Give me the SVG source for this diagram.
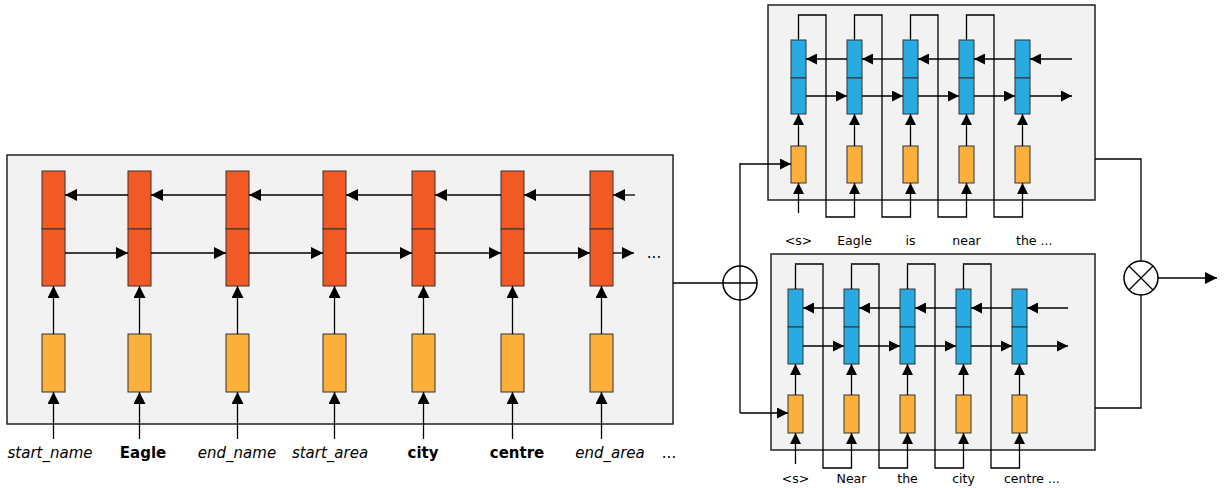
<svg xmlns="http://www.w3.org/2000/svg" width="1225" height="488" viewBox="0 0 1225 488">
<defs>
<marker id="ah" markerUnits="userSpaceOnUse" markerWidth="12" markerHeight="12" refX="12" refY="6" orient="auto"><path d="M0,0 L12,6 L0,12 z" fill="#000"/></marker>
<marker id="as" markerUnits="userSpaceOnUse" markerWidth="11" markerHeight="11" refX="11" refY="5.5" orient="auto"><path d="M0,0 L11,5.5 L0,11 z" fill="#000"/></marker>
<style>
.panel{fill:#F2F2F2;stroke:#222;stroke-width:1.5}
.or{fill:#F15A24;stroke:#333;stroke-width:1}
.ye{fill:#FBB03B;stroke:#333;stroke-width:1}
.bl{fill:#29ABE2;stroke:#333;stroke-width:1}
.ln{fill:none;stroke:#000;stroke-width:1.3}
.ar{fill:none;stroke:#000;stroke-width:1.3;marker-end:url(#ah)}
.as{fill:none;stroke:#000;stroke-width:1.3;marker-end:url(#as)}
.lab{font-family:"DejaVu Sans",Verdana,sans-serif;font-size:15px;fill:#000;text-anchor:middle}
.it{font-style:italic}
.bd{font-weight:bold}
.sl{font-family:"DejaVu Sans",Verdana,sans-serif;font-size:12.5px;fill:#000;text-anchor:middle}
.op{fill:#fff;stroke:#000;stroke-width:1.5}
</style>
</defs>

<g id="encoder">
<rect class="panel" x="7" y="155" width="666" height="269"/>
</g>
<g id="enc-cells">
<g id="enc1"><rect class="or" x="42" y="171" width="23" height="58"/><rect class="or" x="42" y="229" width="23" height="57"/><rect class="ye" x="42" y="334" width="23" height="58"/></g>
<g id="enc2"><rect class="or" x="128" y="171" width="23" height="58"/><rect class="or" x="128" y="229" width="23" height="57"/><rect class="ye" x="128" y="334" width="23" height="58"/></g>
<g id="enc3"><rect class="or" x="226" y="171" width="23" height="58"/><rect class="or" x="226" y="229" width="23" height="57"/><rect class="ye" x="226" y="334" width="23" height="58"/></g>
<g id="enc4"><rect class="or" x="323" y="171" width="23" height="58"/><rect class="or" x="323" y="229" width="23" height="57"/><rect class="ye" x="323" y="334" width="23" height="58"/></g>
<g id="enc5"><rect class="or" x="412" y="171" width="23" height="58"/><rect class="or" x="412" y="229" width="23" height="57"/><rect class="ye" x="412" y="334" width="23" height="58"/></g>
<g id="enc6"><rect class="or" x="501" y="171" width="23" height="58"/><rect class="or" x="501" y="229" width="23" height="57"/><rect class="ye" x="501" y="334" width="23" height="58"/></g>
<g id="enc7"><rect class="or" x="590" y="171" width="23" height="58"/><rect class="or" x="590" y="229" width="23" height="57"/><rect class="ye" x="590" y="334" width="23" height="58"/></g>
</g>

<g id="dec-top">
<rect class="panel" x="768" y="5" width="327" height="195"/>
<g id="dt1"><rect class="bl" x="791" y="40" width="15" height="38"/><rect class="bl" x="791" y="78" width="15" height="36"/><rect class="ye" x="791" y="146" width="15" height="37"/></g>
<g id="dt2"><rect class="bl" x="847" y="40" width="15" height="38"/><rect class="bl" x="847" y="78" width="15" height="36"/><rect class="ye" x="847" y="146" width="15" height="37"/></g>
<g id="dt3"><rect class="bl" x="903" y="40" width="15" height="38"/><rect class="bl" x="903" y="78" width="15" height="36"/><rect class="ye" x="903" y="146" width="15" height="37"/></g>
<g id="dt4"><rect class="bl" x="959" y="40" width="15" height="38"/><rect class="bl" x="959" y="78" width="15" height="36"/><rect class="ye" x="959" y="146" width="15" height="37"/></g>
<g id="dt5"><rect class="bl" x="1015" y="40" width="15" height="38"/><rect class="bl" x="1015" y="78" width="15" height="36"/><rect class="ye" x="1015" y="146" width="15" height="37"/></g>
</g>

<g id="dec-bot">
<rect class="panel" x="771" y="254" width="324" height="196"/>
<g id="db1"><rect class="bl" x="788" y="289" width="15" height="38"/><rect class="bl" x="788" y="327" width="15" height="37"/><rect class="ye" x="788" y="395" width="15" height="38"/></g>
<g id="db2"><rect class="bl" x="844" y="289" width="15" height="38"/><rect class="bl" x="844" y="327" width="15" height="37"/><rect class="ye" x="844" y="395" width="15" height="38"/></g>
<g id="db3"><rect class="bl" x="900" y="289" width="15" height="38"/><rect class="bl" x="900" y="327" width="15" height="37"/><rect class="ye" x="900" y="395" width="15" height="38"/></g>
<g id="db4"><rect class="bl" x="956" y="289" width="15" height="38"/><rect class="bl" x="956" y="327" width="15" height="37"/><rect class="ye" x="956" y="395" width="15" height="38"/></g>
<g id="db5"><rect class="bl" x="1012" y="289" width="15" height="38"/><rect class="bl" x="1012" y="327" width="15" height="37"/><rect class="ye" x="1012" y="395" width="15" height="38"/></g>
</g>

<g id="sum-op">
<circle class="op" cx="740" cy="283" r="17"/>
</g>
<g id="mul-op">
<circle class="op" cx="1141" cy="278" r="17"/>
<path class="ln" d="M1129,266 L1153,290 M1153,266 L1129,290"/>
</g>

<g id="connectors">
<!-- encoder backward -->
<line class="ar" x1="128" y1="195" x2="65" y2="195"/>
<line class="ar" x1="226" y1="195" x2="151" y2="195"/>
<line class="ar" x1="323" y1="195" x2="249" y2="195"/>
<line class="ar" x1="412" y1="195" x2="346" y2="195"/>
<line class="ar" x1="501" y1="195" x2="435" y2="195"/>
<line class="ar" x1="590" y1="195" x2="524" y2="195"/>
<line class="ar" x1="635" y1="195" x2="613" y2="195"/>
<!-- encoder forward -->
<line class="ar" x1="65" y1="253" x2="128" y2="253"/>
<line class="ar" x1="151" y1="253" x2="226" y2="253"/>
<line class="ar" x1="249" y1="253" x2="323" y2="253"/>
<line class="ar" x1="346" y1="253" x2="412" y2="253"/>
<line class="ar" x1="435" y1="253" x2="501" y2="253"/>
<line class="ar" x1="524" y1="253" x2="590" y2="253"/>
<line class="ar" x1="613" y1="253" x2="634" y2="253"/>
<!-- encoder vertical -->
<line class="ar" x1="53.5" y1="334" x2="53.5" y2="286"/>
<line class="ar" x1="139.5" y1="334" x2="139.5" y2="286"/>
<line class="ar" x1="237.5" y1="334" x2="237.5" y2="286"/>
<line class="ar" x1="334.5" y1="334" x2="334.5" y2="286"/>
<line class="ar" x1="423.5" y1="334" x2="423.5" y2="286"/>
<line class="ar" x1="512.5" y1="334" x2="512.5" y2="286"/>
<line class="ar" x1="601.5" y1="334" x2="601.5" y2="286"/>
<line class="ar" x1="53.5" y1="439" x2="53.5" y2="392"/>
<line class="ar" x1="139.5" y1="439" x2="139.5" y2="392"/>
<line class="ar" x1="237.5" y1="439" x2="237.5" y2="392"/>
<line class="ar" x1="334.5" y1="439" x2="334.5" y2="392"/>
<line class="ar" x1="423.5" y1="439" x2="423.5" y2="392"/>
<line class="ar" x1="512.5" y1="439" x2="512.5" y2="392"/>
<line class="ar" x1="601.5" y1="439" x2="601.5" y2="392"/>

<!-- encoder to sum -->
<path class="ln" d="M673,283 H757 M740,163 V413"/>
<line class="as" x1="740" y1="164" x2="791" y2="164"/>
<line class="as" x1="740" y1="413" x2="788" y2="413"/>

<!-- top decoder -->
<line class="as" x1="847" y1="59" x2="806" y2="59"/>
<line class="as" x1="903" y1="59" x2="862" y2="59"/>
<line class="as" x1="959" y1="59" x2="918" y2="59"/>
<line class="as" x1="1015" y1="59" x2="974" y2="59"/>
<line class="as" x1="1072" y1="59" x2="1030" y2="59"/>
<line class="as" x1="806" y1="96" x2="847" y2="96"/>
<line class="as" x1="862" y1="96" x2="903" y2="96"/>
<line class="as" x1="918" y1="96" x2="959" y2="96"/>
<line class="as" x1="974" y1="96" x2="1015" y2="96"/>
<line class="as" x1="1030" y1="96" x2="1072" y2="96"/>
<line class="as" x1="798.5" y1="146" x2="798.5" y2="114"/>
<line class="as" x1="854.5" y1="146" x2="854.5" y2="114"/>
<line class="as" x1="910.5" y1="146" x2="910.5" y2="114"/>
<line class="as" x1="966.5" y1="146" x2="966.5" y2="114"/>
<line class="as" x1="1022.5" y1="146" x2="1022.5" y2="114"/>
<line class="as" x1="798.5" y1="213" x2="798.5" y2="183"/>
<path class="as" d="M798.5,40 V15 H826 V217 H854.5 V183"/>
<path class="as" d="M854.5,40 V15 H882 V217 H910.5 V183"/>
<path class="as" d="M910.5,40 V15 H938 V217 H966.5 V183"/>
<path class="as" d="M966.5,40 V15 H994 V217 H1022.5 V183"/>

<!-- bottom decoder -->
<line class="as" x1="844" y1="308" x2="803" y2="308"/>
<line class="as" x1="900" y1="308" x2="859" y2="308"/>
<line class="as" x1="956" y1="308" x2="915" y2="308"/>
<line class="as" x1="1012" y1="308" x2="971" y2="308"/>
<line class="as" x1="1068" y1="308" x2="1027" y2="308"/>
<line class="as" x1="803" y1="346" x2="844" y2="346"/>
<line class="as" x1="859" y1="346" x2="900" y2="346"/>
<line class="as" x1="915" y1="346" x2="956" y2="346"/>
<line class="as" x1="971" y1="346" x2="1012" y2="346"/>
<line class="as" x1="1027" y1="346" x2="1068" y2="346"/>
<line class="as" x1="795.5" y1="395" x2="795.5" y2="364"/>
<line class="as" x1="851.5" y1="395" x2="851.5" y2="364"/>
<line class="as" x1="907.5" y1="395" x2="907.5" y2="364"/>
<line class="as" x1="963.5" y1="395" x2="963.5" y2="364"/>
<line class="as" x1="1019.5" y1="395" x2="1019.5" y2="364"/>
<line class="as" x1="795.5" y1="464" x2="795.5" y2="433"/>
<path class="as" d="M795.5,289 V264 H823 V468 H851.5 V433"/>
<path class="as" d="M851.5,289 V264 H879 V468 H907.5 V433"/>
<path class="as" d="M907.5,289 V264 H935 V468 H963.5 V433"/>
<path class="as" d="M963.5,289 V264 H991 V468 H1019.5 V433"/>

<!-- to multiply -->
<path class="ln" d="M1095,159 H1141 V261 M1141,295 V408 H1095"/>
<line class="ar" x1="1158" y1="278" x2="1217" y2="278"/>
</g>

<g id="labels">
<text class="lab it" x="50" y="458">start_name</text>
<text class="lab bd" x="143" y="458">Eagle</text>
<text class="lab it" x="237" y="458">end_name</text>
<text class="lab it" x="330" y="458">start_area</text>
<text class="lab bd" x="423" y="458">city</text>
<text class="lab bd" x="517" y="458">centre</text>
<text class="lab it" x="610" y="458">end_area</text>
<text class="lab" x="669" y="458">...</text>
<text class="lab" x="654" y="258">...</text>
<text class="sl" x="798.5" y="245">&lt;s&gt;</text>
<text class="sl" x="854.5" y="245">Eagle</text>
<text class="sl" x="910.5" y="245">is</text>
<text class="sl" x="966.5" y="245">near</text>
<text class="sl" x="1016" y="245" style="text-anchor:start">the ...</text>
<text class="sl" x="795.5" y="483">&lt;s&gt;</text>
<text class="sl" x="851.5" y="483">Near</text>
<text class="sl" x="907.5" y="483">the</text>
<text class="sl" x="963.5" y="483">city</text>
<text class="sl" x="1004" y="483" style="text-anchor:start">centre ...</text>
</g>
</svg>
